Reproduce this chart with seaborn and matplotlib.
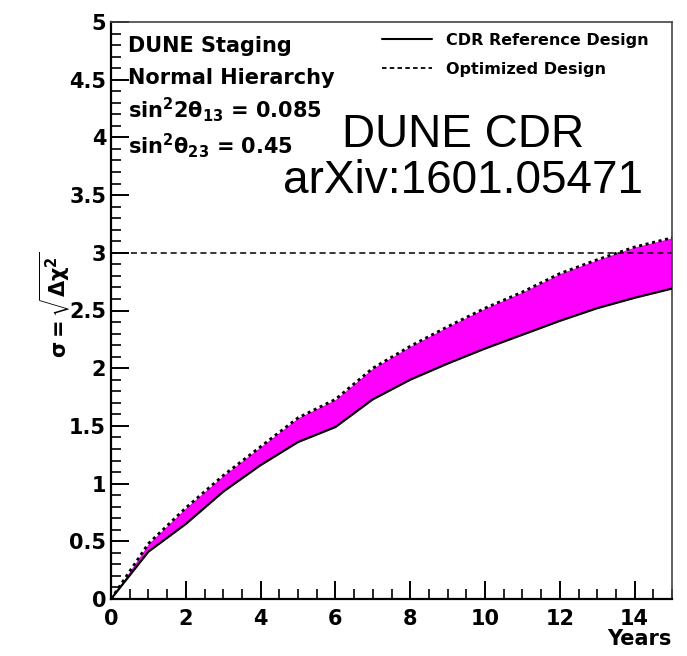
import numpy as np
import pandas as pd
import matplotlib
matplotlib.use("Agg")
import matplotlib.pyplot as plt
from matplotlib.lines import Line2D
from matplotlib.ticker import MultipleLocator
import seaborn as sns

# ---- data ----
years = [0, 1, 2, 3, 4, 5, 6, 7, 8, 9, 10, 11, 12, 13, 14, 15]
cdr_reference = [0, 0.41, 0.65, 0.93, 1.16, 1.36, 1.49, 1.73, 1.90, 2.04, 2.17, 2.29, 2.41, 2.52, 2.61, 2.69]
optimized = [0, 0.48, 0.79, 1.07, 1.32, 1.57, 1.73, 2.00, 2.19, 2.36, 2.52, 2.66, 2.82, 2.94, 3.05, 3.13]
threshold = 3.0
series_names = ["CDR Reference Design", "Optimized Design"]
info_lines = ["DUNE Staging", "Normal Hierarchy",
              r"$\mathbf{sin^{2}2\theta_{13}}$ = 0.085",
              r"$\mathbf{sin^{2}\theta_{23}}$ = 0.45"]
stamp_lines = ["DUNE CDR", "arXiv:1601.05471"]

df = pd.DataFrame({"years": years, "ref": cdr_reference, "opt": optimized})

sns.set_style("white")
plt.rcParams["font.family"] = ["DejaVu Sans"]
plt.rcParams["mathtext.fontset"] = "dejavusans"
plt.rcParams["text.color"] = "black"
plt.rcParams["axes.labelcolor"] = "black"
plt.rcParams["xtick.color"] = "black"
plt.rcParams["ytick.color"] = "black"

W, H = 687, 656
fig = plt.figure(figsize=(W / 100, H / 100), dpi=100)
ax = fig.add_axes([111 / W, 1 - 599 / H, (672 - 111) / W, (599 - 22) / H])

ax.fill_between(df["years"], df["ref"], df["opt"], color="#ff00ff", lw=0, zorder=1)
sns.lineplot(data=df, x="years", y="ref", ax=ax, color="black", lw=1.6, zorder=3)
sns.lineplot(data=df, x="years", y="opt", ax=ax, color="black", lw=2.0,
             linestyle=(0, (1.1, 1.3)), zorder=3)
ax.axhline(threshold, color="black", lw=1.1, linestyle=(0, (4, 2.5)), zorder=2)

ax.set_xlim(0, 15)
ax.set_ylim(0, 5)
ax.xaxis.set_major_locator(MultipleLocator(2))
ax.xaxis.set_minor_locator(MultipleLocator(0.5))
ax.yaxis.set_major_locator(MultipleLocator(0.5))
ax.yaxis.set_minor_locator(MultipleLocator(0.1))
ax.set_yticks(np.arange(0, 5.01, 0.5))
ax.set_yticklabels(["0", "0.5", "1", "1.5", "2", "2.5", "3", "3.5", "4", "4.5", "5"])
ax.tick_params(which="major", direction="in", length=13, width=1.4, color="black",
               labelcolor="black")
ax.tick_params(which="minor", direction="in", length=7, width=1.2, color="black")
ax.tick_params(axis="y", which="both", left=True, right=False, pad=3.5)
ax.tick_params(axis="x", which="both", bottom=True, top=False, pad=7)
for lab in ax.get_xticklabels() + ax.get_yticklabels():
    lab.set_fontsize(15)
    lab.set_fontweight("bold")

for side in ["left", "bottom"]:
    ax.spines[side].set_color("black")
    ax.spines[side].set_linewidth(1.6)
for side in ["top", "right"]:
    ax.spines[side].set_color("#444444")
    ax.spines[side].set_linewidth(1.2)

ax.set_xlabel("Years", loc="right", fontsize=15, fontweight="bold", labelpad=0,
              color="black")
ax.set_ylabel(r"$\mathbf{\sigma = \sqrt{\Delta\chi^{2}}}$", fontsize=15, color="black")
ax.yaxis.set_label_coords((72 - 111) / (672 - 111), 0.51)

# info text block
for i, line in enumerate(info_lines):
    fig.text(128 / W, 1 - [52, 84, 118, 154][i] / H, line, fontsize=15,
             fontweight="bold", ha="left", va="baseline", color="black")

# stamp
fig.text(463 / W, 1 - 147 / H, stamp_lines[0], fontsize=33, ha="center",
         va="baseline", family="Liberation Sans", color="black")
fig.text(463 / W, 1 - 193 / H, stamp_lines[1], fontsize=33, ha="center",
         va="baseline", family="Liberation Sans", color="black")

handles = [Line2D([], [], color="black", lw=1.5),
           Line2D([], [], color="black", lw=1.3, linestyle=(0, (2.5, 1.8)))]
leg = ax.legend(handles, series_names, loc="upper left",
                bbox_to_anchor=(382 / W, 1 - 33 / H), bbox_transform=fig.transFigure,
                frameon=False, borderpad=0, borderaxespad=0, handlelength=3.1,
                handletextpad=0.9, labelspacing=0.85,
                prop={"size": 11.5, "weight": "bold"})
for t in leg.get_texts():
    t.set_color("black")

fig.savefig("out.png", dpi=100, facecolor="white")
